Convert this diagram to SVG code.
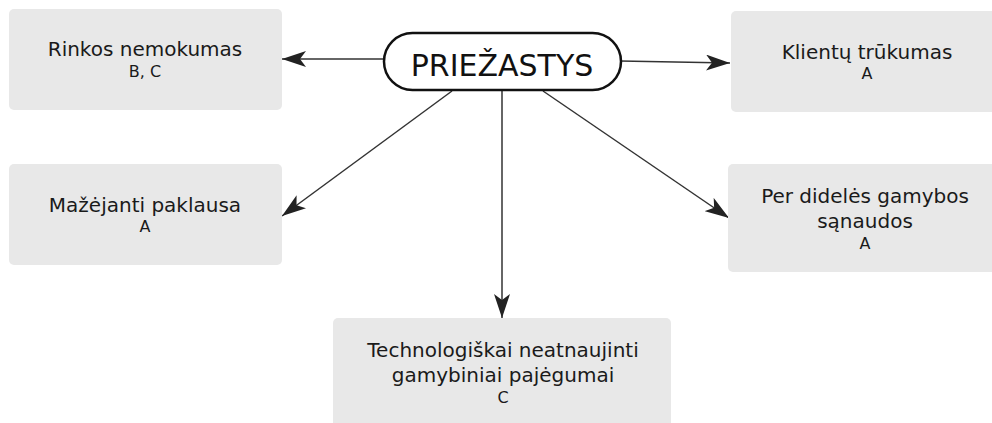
<svg xmlns="http://www.w3.org/2000/svg" width="992" height="423" viewBox="0 0 992 423">
  <style>
    .box { fill: #e8e8e8; }
    .label { font-family: "DejaVu Sans", sans-serif; font-size: 20px; fill: #1a1a1a; text-anchor: middle; }
    .tag { font-family: "DejaVu Sans", sans-serif; font-size: 16px; fill: #1a1a1a; text-anchor: middle; }
    .title { font-family: "DejaVu Sans", sans-serif; font-size: 30px; fill: #111; text-anchor: middle; }
    .edge { stroke: #333; stroke-width: 1.5; fill: none; marker-end: url(#head); }
  </style>
  <defs>
    <marker id="head" viewBox="0 0 24 16" refX="24" refY="8" markerWidth="24" markerHeight="16" markerUnits="userSpaceOnUse" orient="auto">
      <path d="M24,8 L0,0 L6,8 L0,16 Z" fill="#222"/>
    </marker>
  </defs>
  <rect width="992" height="423" fill="#ffffff"/>

  <g id="connectors">
    <line class="edge" x1="385" y1="59" x2="282" y2="59"/>
    <line class="edge" x1="620" y1="61" x2="730" y2="63"/>
    <line class="edge" x1="452" y1="91" x2="282" y2="216"/>
    <line class="edge" x1="502" y1="91" x2="502" y2="318"/>
    <line class="edge" x1="543" y1="91" x2="729" y2="218"/>
  </g>

  <g id="priezastys">
    <rect x="384" y="33" width="237" height="57" rx="28.5" fill="#ffffff" stroke="#111" stroke-width="2.5"/>
    <text class="title" x="502" y="76">PRIEŽASTYS</text>
  </g>

  <g id="rinkos-nemokumas">
    <rect class="box" x="9" y="9" width="273" height="101" rx="5"/>
    <text class="label" x="145" y="56">Rinkos nemokumas</text>
    <text class="tag" x="145" y="77">B, C</text>
  </g>

  <g id="klientu-trukumas">
    <rect class="box" x="731" y="11" width="270" height="101" rx="5"/>
    <text class="label" x="867" y="59">Klientų trūkumas</text>
    <text class="tag" x="867" y="79">A</text>
  </g>

  <g id="mazejanti-paklausa">
    <rect class="box" x="9" y="164" width="273" height="101" rx="5"/>
    <text class="label" x="145" y="212">Mažėjanti paklausa</text>
    <text class="tag" x="145" y="232">A</text>
  </g>

  <g id="gamybos-sanaudos">
    <rect class="box" x="728" y="164" width="272" height="108" rx="5"/>
    <text class="label" x="865" y="203">Per didelės gamybos</text>
    <text class="label" x="865" y="228">sąnaudos</text>
    <text class="tag" x="865" y="249">A</text>
  </g>

  <g id="pajegumai">
    <rect class="box" x="333" y="318" width="338" height="110" rx="5"/>
    <text class="label" x="503" y="357">Technologiškai neatnaujinti</text>
    <text class="label" x="503" y="382">gamybiniai pajėgumai</text>
    <text class="tag" x="503" y="403">C</text>
  </g>
</svg>
